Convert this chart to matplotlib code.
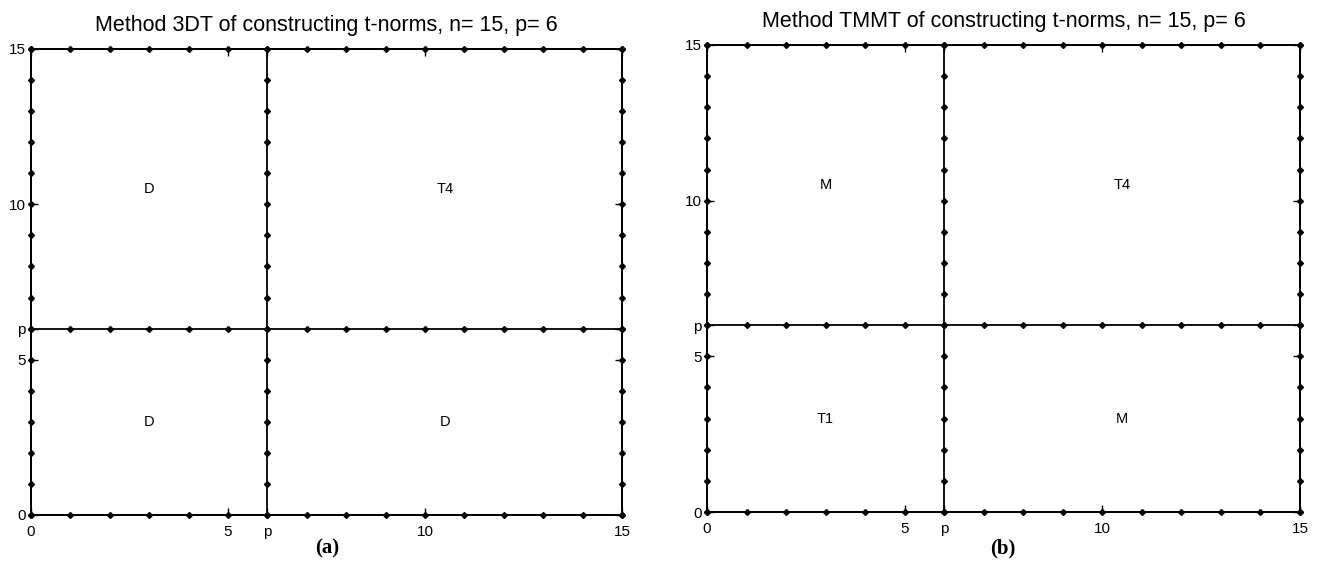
import numpy as np
import matplotlib
matplotlib.use("Agg")
import matplotlib.pyplot as plt

plt.rcParams['font.family'] = ['Liberation Sans', 'DejaVu Sans']

n = 15
p = 6
titles = ["Method 3DT of constructing t-norms, n= 15, p= 6",
          "Method TMMT of constructing t-norms, n= 15, p= 6"]
panel_tags = ["(a)", "(b)"]
# quadrant labels: (x, y, text)
label_x = [3, 10.5, 3, 10.5]
label_y = [10.5, 10.5, 3, 3]
labels_a = ["D", "T4", "D", "D"]
labels_b = ["M", "T4", "T1", "M"]
quad_labels = [labels_a, labels_b]
tick_vals = [0, 5, p, 10, 15]
tick_text = ["0", "5", "p", "10", "15"]

fig = plt.figure(figsize=(13.18, 5.68), dpi=100)
positions = [
    [31/1318, 1-515/568, (622-31)/1318, (515-49)/568],
    [707/1318, 1-512/568, (1300-707)/1318, (512-45)/568],
]
tag_x = [327/1318, 1003/1318]

pts = np.arange(0, n + 1)
for k in range(2):
    ax = fig.add_axes(positions[k])
    ax.set_xlim(0, n)
    ax.set_ylim(0, n)
    for s in ax.spines.values():
        s.set_linewidth(1.3)
        s.set_color('black')
    # lines with dots at integer points
    for c in [0, p, n]:
        ax.plot(pts, np.full_like(pts, c), '-', color='black', lw=1.3,
                marker='D', markersize=3.0, clip_on=False, zorder=3)
        ax.plot(np.full_like(pts, c), pts, '-', color='black', lw=1.3,
                marker='D', markersize=3.0, clip_on=False, zorder=3)
    for xx, yy, t in zip(label_x, label_y, quad_labels[k]):
        ax.text(xx, yy, t, ha='center', va='center', fontsize=10.5)
    ax.set_xticks(tick_vals)
    ax.set_xticklabels(tick_text)
    ax.set_yticks(tick_vals)
    ax.set_yticklabels(tick_text)
    ax.tick_params(direction='in', length=5, width=1, top=True, right=True,
                   labelsize=11, colors='black')
    ax.tick_params(axis='x', pad=7)
    ax.tick_params(axis='y', pad=4)
    ax.set_title(titles[k], fontsize=15.5, pad=13)
    fig.text(tag_x[k], 0.035, panel_tags[k], ha='center', va='center',
             fontsize=15, fontweight='bold', family='Liberation Serif')

fig.savefig("out.png", dpi=100, facecolor='white')
